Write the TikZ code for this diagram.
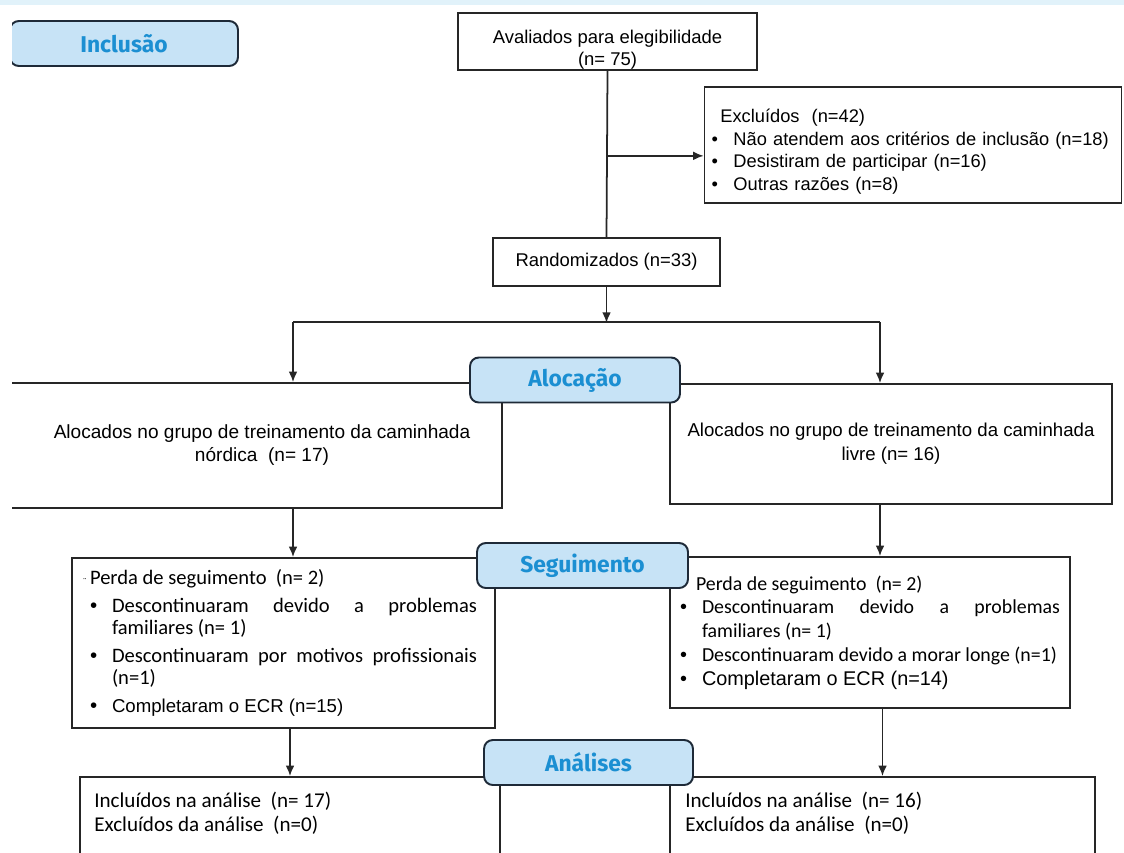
\documentclass[tikz,border=0pt]{standalone}
\usepackage{fontspec}
\setmainfont{Liberation Sans}
\newfontfamily\calibri{Carlito}
\newfontfamily\rotfont{Fira Sans}
\usetikzlibrary{shapes,arrows.meta,positioning}

\definecolor{azul}{HTML}{1B8FD2}
\definecolor{azulclaro}{HTML}{C7E3F6}
\definecolor{faixa}{HTML}{E1F2FA}
\definecolor{contorno}{HTML}{1E2A38}

% item com marcador
\newcommand{\topico}{\par\noindent\hangindent=12.5pt\hangafter=1\makebox[12.5pt][l]{\rmfamily\textbullet}}

\tikzset{
	caixa/.style={draw=black!85, line width=1pt, rectangle, inner sep=0pt, font=\fontsize{10.5}{12.7}\selectfont},
	rotulo/.style={draw=contorno, line width=1.1pt, rounded corners=5pt, fill=azulclaro, text=azul, font=\rotfont\bfseries\fontsize{13}{15}\selectfont, minimum height=0.9cm},
	linha/.style={line width=1pt, draw=black!85},
	seta/.style={linha, -{Latex[length=6pt,width=5pt]}},
}

\begin{document}
\begin{tikzpicture}[x=0.02cm, y=-0.02cm]
\useasboundingbox (0,0) rectangle (1124,852);
\fill[faixa] (0,0) rectangle (1124,5);
\begin{scope}
\clip (12,5) rectangle (1124,852);

% caixas
\node[caixa, minimum width=5.98cm, minimum height=1.14cm, align=center] (aval) at (607.5,41.5) {\rule{0pt}{17pt}Avaliados para elegibilidade\\(n= 75)};
\node[caixa, minimum width=8.34cm, minimum height=2.32cm, text width=8.06cm, inner xsep=0.14cm, align=left, font=\fontsize{10.4}{12.8}\selectfont] (exc) at (913,145)
	{\rule{0pt}{15pt}\hspace*{5pt}Excluídos~~(n=42)
	\topico Não atendem aos critérios de inclusão (n=18)
	\topico Desistiram de participar (n=16)
	\topico Outras razões (n=8)};
\node[caixa, minimum width=4.54cm, minimum height=0.96cm] (rand) at (606.5,262) {Randomizados (n=33)};

\node[caixa, minimum width=10.24cm, minimum height=2.5cm] (alocE) at (246,445.5) {};
\node[font=\fontsize{10.85}{13.5}\selectfont, align=center] (txtAlocE) at (262,445) {Alocados no grupo de treinamento da caminhada\\nórdica~~(n= 17)};
\node[caixa, minimum width=8.84cm, minimum height=2.4cm, align=center, font=\fontsize{10.6}{13.5}\selectfont] (alocD) at (891,444) {Alocados no grupo de treinamento da caminhada\\livre (n= 16)};

\node[caixa, minimum width=8.46cm, minimum height=3.4cm, text width=7.74cm, inner xsep=0.36cm, align=justify, font=\calibri\fontsize{11.7}{12.8}\selectfont] (segE) at (283.5,643)
	{\setlength{\parskip}{3pt}\noindent\llap{{\tiny ¨}\,}Perda de seguimento~~(n= 2)
	\topico Descontinuaram devido a problemas\linebreak familiares (n= 1)
	\topico Descontinuaram por motivos profissionais\linebreak (n=1)
	\topico {\rmfamily\fontsize{10.6}{12.8}\selectfont Completaram o ECR (n=15)}};
\node[caixa, minimum width=8cm, minimum height=3.02cm, text width=7.6cm, inner xsep=0.2cm, align=justify, font=\calibri\fontsize{11.3}{13.5}\selectfont] (segD) at (870,632.5)
	{\noindent{\tiny '}\hspace{8pt}Perda de seguimento~~(n= 2)
	\topico Descontinuaram devido a problemas\linebreak familiares (n= 1)
	\topico Descontinuaram devido a morar longe (n=1)
	\topico {\rmfamily\fontsize{11.3}{13.5}\selectfont Completaram o ECR (n=14)}};

\node[caixa, minimum width=8.4cm, minimum height=2.46cm] (anaE) at (290,838.5) {};
\node[caixa, minimum width=8.5cm, minimum height=2.46cm] (anaD) at (882.5,838.5) {};
\node[anchor=north west, align=left, inner sep=0pt, font=\calibri\fontsize{12}{13.7}\selectfont] (txtAnaE) at (94,792) {Incluídos na análise~~(n= 17)\\Excluídos da análise~~(n=0)};
\node[anchor=north west, align=left, inner sep=0pt, font=\calibri\fontsize{12}{13.7}\selectfont] (txtAnaD) at (685,792) {Incluídos na análise~~(n= 16)\\Excluídos da análise~~(n=0)};

% ligacoes
\coordinate (ramo) at ([yshift=-1.7cm]aval.south);
\coordinate (divisao) at ([yshift=-0.72cm]rand.south);
\coordinate (eixoE) at (293,322);
\coordinate (eixoD) at (880,322);
\draw[linha] (aval.south) -- (rand.north);
\draw[seta] (ramo) -- (ramo -| exc.west);
\draw[seta] (rand.south) -- (divisao);
\draw[linha] (eixoE) -- (eixoD);
\draw[seta] (eixoE) -- (eixoE |- alocE.north);
\draw[seta] (eixoD) -- (eixoD |- alocD.north);
\draw[seta] (eixoE |- alocE.south) -- (eixoE |- segE.north);
\draw[seta] (eixoD |- alocD.south) -- (eixoD |- segD.north);
\draw[seta] (segE.south -| anaE.north) -- (anaE.north);
\draw[seta] (segD.south -| anaD.north) -- (anaD.north);

% rotulos das etapas
\node[rotulo, minimum width=4.56cm] (incl) at (124,43.5) {Inclusão};
\node[rotulo, minimum width=4.2cm] (aloc) at (575,380) {Alocação};
\node[rotulo, minimum width=4.22cm] (seg) at (582.5,565.5) {Seguimento};
\node[rotulo, minimum width=4.18cm] (ana) at (588.5,762.5) {Análises};
\end{scope}
\end{tikzpicture}
\end{document}
